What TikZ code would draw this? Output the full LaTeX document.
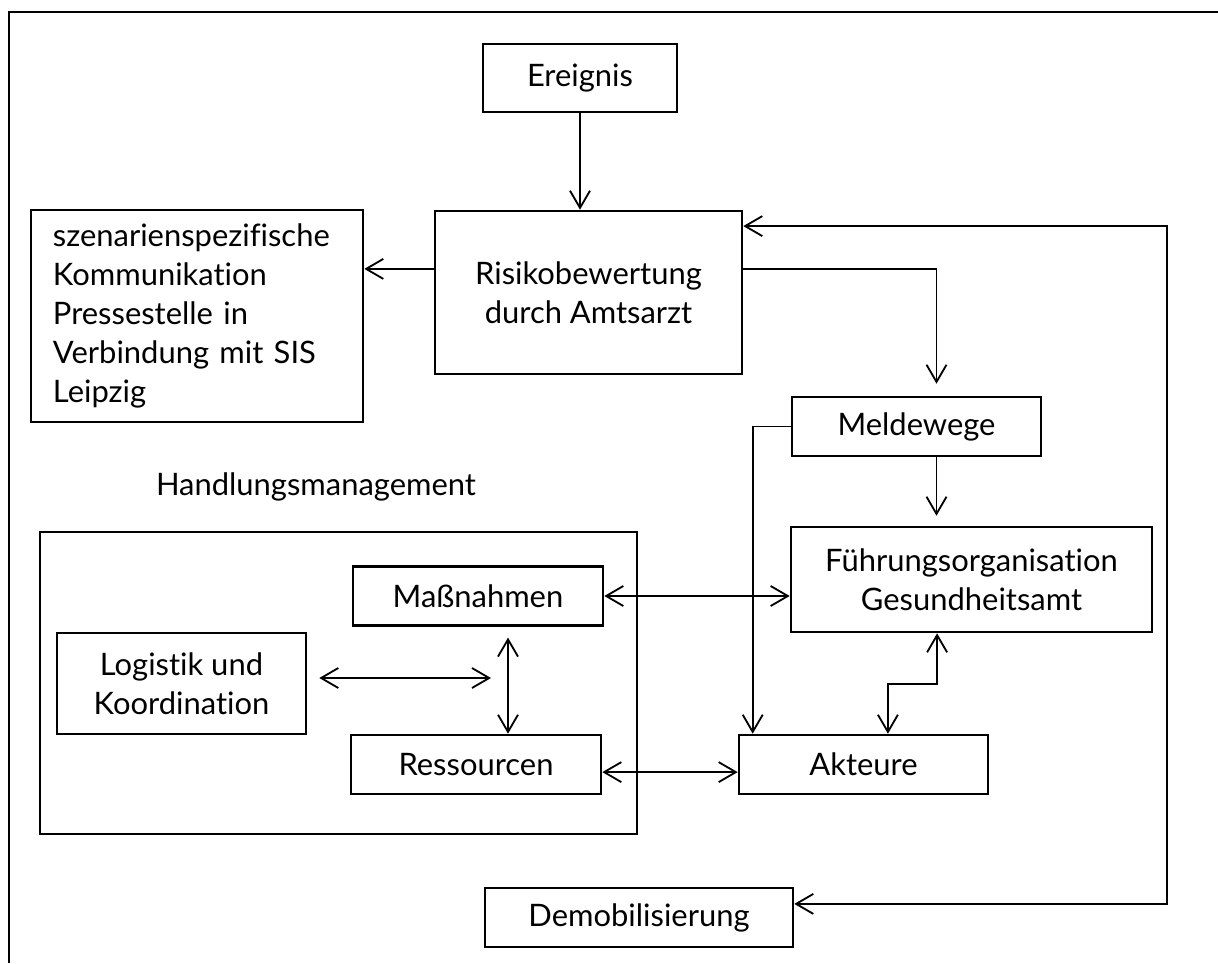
\documentclass[tikz,border=0pt]{standalone}
\usepackage{fontspec}
\setmainfont{Lato}[Ligatures=NoCommon]
\usetikzlibrary{arrows.meta,positioning,calc}
\tikzset{
  box/.style={rectangle, draw=black, line width=1.8pt, inner sep=0pt, align=center,
              font=\fontsize{22pt}{27.7pt}\selectfont},
  arr/.style={-{Straight Barb[length=0.43cm, width=0.5cm]}, line width=1.3pt},
  dbl/.style={{Straight Barb[length=0.43cm, width=0.5cm]}-{Straight Barb[length=0.43cm, width=0.5cm]}, line width=1.3pt},
}

\begin{document}
\begin{tikzpicture}[
    x=0.025cm, y=-0.025cm,
    smallbox/.style={box, minimum width=6.225cm, minimum height=1.475cm},
    grpbox/.style={rectangle, draw=black, line width=1.8pt, inner sep=0pt},
    frame/.style={line width=2pt},
    caption/.style={font=\fontsize{22pt}{27.7pt}\selectfont}
]
\useasboundingbox (0,0) rectangle (1218,963);

% Outer frame
\draw[frame] (9,963) -- (9,12) -- (1218,12);

% Nodes
\node[box, minimum width=4.85cm, minimum height=1.7cm] (ereignis) at (580,78) {Ereignis};
\node[box, minimum width=7.675cm, minimum height=4.075cm] (risiko) at (588.5,292.5) {Risikobewertung\\durch Amtsarzt};
\node[box, align=left, text width=7.2cm, inner xsep=0.55cm, minimum height=5.3cm] (szen) at (197,316)
  {szenarienspezifische\\Kommunikation\\Pressestelle in\\Verbindung mit SIS\\Leipzig};
\node[smallbox] (melde) at (916.5,426.5) {Meldewege};
\node[box, minimum width=9.025cm, minimum height=2.625cm] (fuehrung) at (971.5,579.5) {Führungsorganisation\\Gesundheitsamt};
\node[smallbox] (akteure) at (863.5,764.5) {Akteure};
\node[box, minimum width=7.7cm, minimum height=1.475cm] (demob) at (639,917.5) {Demobilisierung};

% Handlungsmanagement
\node[caption] (hlabel) at (316,487) {Handlungsmanagement};
\node[grpbox, minimum width=14.925cm, minimum height=7.55cm] (handlung) at (338.5,683) {};
\node[smallbox, minimum width=6.25cm] (massnahmen) at (478,596) {Maßnahmen};
\node[box, minimum width=6.225cm, minimum height=2.525cm] (logistik) at (181.5,683.5) {Logistik und\\Koordination};
\node[smallbox, minimum width=6.25cm] (ressourcen) at (476,764.5) {Ressourcen};

% Helper points
\coordinate (rw) at ([yshift=0.59cm]risiko.west);
\coordinate (re) at ([yshift=0.59cm]risiko.east);
\coordinate (loop) at (1167,500);
\coordinate (lk) at (491,678);

% Connectors
\draw[arr] (ereignis.south) -- (ereignis.south |- risiko.north);
\draw[arr] (rw) -- (rw -| szen.east);
\draw[arr, shorten >=0.3cm] (re) -| ([xshift=0.5cm]melde.north);
\draw[arr, shorten >=0.25cm] ([xshift=0.5cm]melde.south) -- ([xshift=0.5cm]melde.south |- fuehrung.north);
\draw[arr] (melde.west) -| ([xshift=0.375cm]akteure.north west);
\draw[dbl] ([xshift=-0.86cm]fuehrung.south) -- ++(0,-1.275cm) -| ([xshift=0.61cm]akteure.north);
\draw[dbl] (massnahmen.east) -- (massnahmen.east -| fuehrung.west);
\draw[dbl, shorten <=0.27cm] ([xshift=0.75cm]massnahmen.south) -- ([xshift=0.75cm]massnahmen.south |- ressourcen.north);
\draw[dbl, shorten <=0.3cm] (logistik.east |- lk) -- (lk);
\draw[dbl] ([yshift=-0.19cm]ressourcen.east) -- ([yshift=-0.19cm]akteure.west);
\draw[dbl] ([yshift=1.66cm]risiko.east) -| (loop) |- ([yshift=0.34cm]demob.east);
\end{tikzpicture}
\end{document}
